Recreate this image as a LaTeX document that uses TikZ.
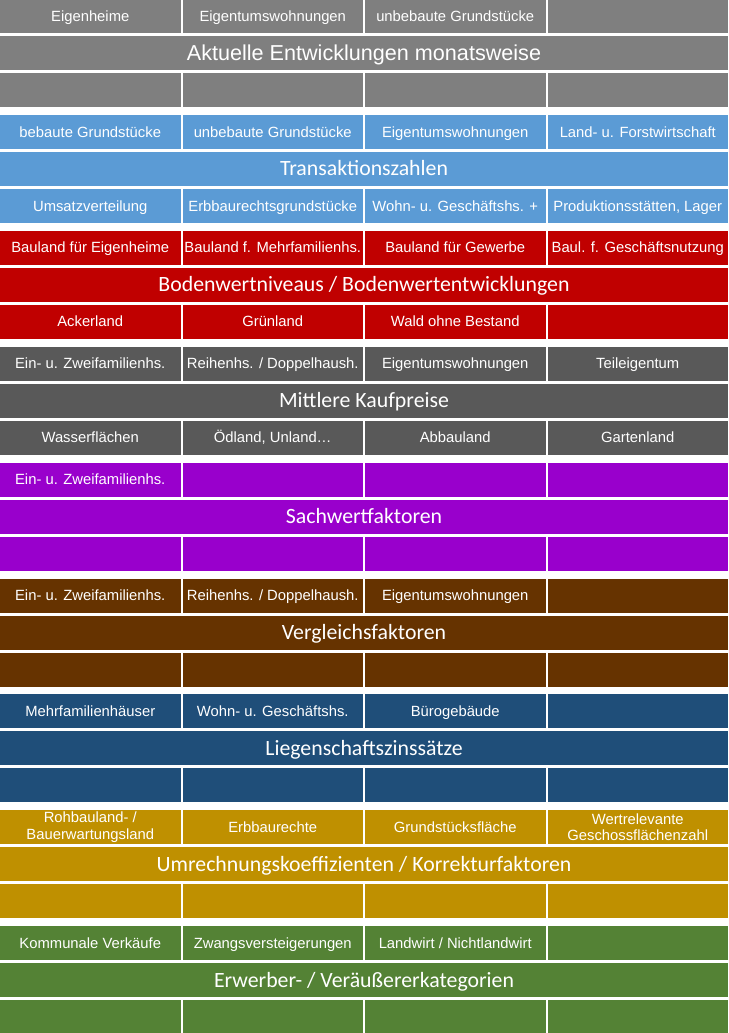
\documentclass[tikz,border=0pt]{standalone}
\usepackage{fontspec}
\setmainfont{Liberation Sans}
\newfontfamily\titlefont{Carlito}
\definecolor{grayA}{HTML}{7F7F7F}
\definecolor{blueA}{HTML}{5B9BD5}
\definecolor{redA}{HTML}{C00000}
\definecolor{grayB}{HTML}{595959}
\definecolor{purpleA}{HTML}{9900CC}
\definecolor{brownA}{HTML}{663300}
\definecolor{navyA}{HTML}{1F4E79}
\definecolor{goldA}{HTML}{BF9000}
\definecolor{greenA}{HTML}{548235}

\begin{document}
\begin{tikzpicture}[x=1pt,y=-1pt,
  cellbox/.style={fill=#1,text=white,minimum width=180.5pt,minimum height=34pt,inner sep=0pt,align=center,font=\fontsize{14.8}{16.5}\selectfont},
  cell/.style={cellbox=#1,text height=12.3pt,text depth=2pt},
  head/.style={fill=#1,text=white,minimum width=728pt,minimum height=34pt,inner sep=0pt,text height=16.5pt,text depth=2.5pt,font=\titlefont\fontsize{21.8}{24}\selectfont}]
  \fill[white] (0,0) rectangle (728,1033);
  \useasboundingbox (0,0) rectangle (728,1033);
  % Aktuelle Entwicklungen
  \node[cell=grayA] (r1t1) at (90.25,16) {Eigenheime};
  \node[cell=grayA] (r1t2) at (272.75,16) {Eigentumswohnungen};
  \node[cell=grayA] (r1t3) at (455.25,16) {unbebaute Grundstücke};
  \node[cell=grayA] (r1t4) at (637.75,16) {};
  \node[head=grayA,font=\fontsize{21.6}{24}\selectfont] (r1h) at (364,53) {Aktuelle Entwicklungen monatsweise};
  \node[cell=grayA] (r1b1) at (90.25,90) {};
  \node[cell=grayA] (r1b2) at (272.75,90) {};
  \node[cell=grayA] (r1b3) at (455.25,90) {};
  \node[cell=grayA] (r1b4) at (637.75,90) {};
  % Transaktionszahlen
  \node[cell=blueA] (r2t1) at (90.25,131.9) {bebaute Grundstücke};
  \node[cell=blueA] (r2t2) at (272.75,131.9) {unbebaute Grundstücke};
  \node[cell=blueA] (r2t3) at (455.25,131.9) {Eigentumswohnungen};
  \node[cell=blueA] (r2t4) at (637.75,131.9) {Land- u. Forstwirtschaft};
  \node[head=blueA] (r2h) at (364,168.9) {Transaktionszahlen};
  \node[cell=blueA] (r2b1) at (90.25,205.9) {Umsatzverteilung};
  \node[cell=blueA] (r2b2) at (272.75,205.9) {Erbbaurechtsgrundstücke};
  \node[cell=blueA] (r2b3) at (455.25,205.9) {Wohn- u. Geschäftshs. +};
  \node[cell=blueA] (r2b4) at (637.75,205.9) {Produktionsstätten, Lager};
  % Bodenwerte
  \node[cell=redA] (r3t1) at (90.25,247.8) {Bauland für Eigenheime};
  \node[cell=redA] (r3t2) at (272.75,247.8) {Bauland f. Mehrfamilienhs.};
  \node[cell=redA] (r3t3) at (455.25,247.8) {Bauland für Gewerbe};
  \node[cell=redA] (r3t4) at (637.75,247.8) {Baul. f. Geschäftsnutzung};
  \node[head=redA] (r3h) at (364,284.8) {Bodenwertniveaus / Bodenwertentwicklungen};
  \node[cell=redA] (r3b1) at (90.25,321.8) {Ackerland};
  \node[cell=redA] (r3b2) at (272.75,321.8) {Grünland};
  \node[cell=redA] (r3b3) at (455.25,321.8) {Wald ohne Bestand};
  \node[cell=redA] (r3b4) at (637.75,321.8) {};
  % Kaufpreise
  \node[cell=grayB] (r4t1) at (90.25,363.7) {Ein- u. Zweifamilienhs.};
  \node[cell=grayB] (r4t2) at (272.75,363.7) {Reihenhs. / Doppelhaush.};
  \node[cell=grayB] (r4t3) at (455.25,363.7) {Eigentumswohnungen};
  \node[cell=grayB] (r4t4) at (637.75,363.7) {Teileigentum};
  \node[head=grayB] (r4h) at (364,400.7) {Mittlere Kaufpreise};
  \node[cell=grayB] (r4b1) at (90.25,437.7) {Wasserflächen};
  \node[cell=grayB] (r4b2) at (272.75,437.7) {Ödland, Unland…};
  \node[cell=grayB] (r4b3) at (455.25,437.7) {Abbauland};
  \node[cell=grayB] (r4b4) at (637.75,437.7) {Gartenland};
  % Sachwertfaktoren
  \node[cell=purpleA] (r5t1) at (90.25,479.6) {Ein- u. Zweifamilienhs.};
  \node[cell=purpleA] (r5t2) at (272.75,479.6) {};
  \node[cell=purpleA] (r5t3) at (455.25,479.6) {};
  \node[cell=purpleA] (r5t4) at (637.75,479.6) {};
  \node[head=purpleA] (r5h) at (364,516.6) {Sachwertfaktoren};
  \node[cell=purpleA] (r5b1) at (90.25,553.6) {};
  \node[cell=purpleA] (r5b2) at (272.75,553.6) {};
  \node[cell=purpleA] (r5b3) at (455.25,553.6) {};
  \node[cell=purpleA] (r5b4) at (637.75,553.6) {};
  % Vergleichsfaktoren
  \node[cell=brownA] (r6t1) at (90.25,595.5) {Ein- u. Zweifamilienhs.};
  \node[cell=brownA] (r6t2) at (272.75,595.5) {Reihenhs. / Doppelhaush.};
  \node[cell=brownA] (r6t3) at (455.25,595.5) {Eigentumswohnungen};
  \node[cell=brownA] (r6t4) at (637.75,595.5) {};
  \node[head=brownA] (r6h) at (364,632.5) {Vergleichsfaktoren};
  \node[cell=brownA] (r6b1) at (90.25,669.5) {};
  \node[cell=brownA] (r6b2) at (272.75,669.5) {};
  \node[cell=brownA] (r6b3) at (455.25,669.5) {};
  \node[cell=brownA] (r6b4) at (637.75,669.5) {};
  % Liegenschaftszinssaetze
  \node[cell=navyA] (r7t1) at (90.25,711.4) {Mehrfamilienhäuser};
  \node[cell=navyA] (r7t2) at (272.75,711.4) {Wohn- u. Geschäftshs.};
  \node[cell=navyA] (r7t3) at (455.25,711.4) {Bürogebäude};
  \node[cell=navyA] (r7t4) at (637.75,711.4) {};
  \node[head=navyA] (r7h) at (364,748.4) {Liegenschaftszinssätze};
  \node[cell=navyA] (r7b1) at (90.25,785.4) {};
  \node[cell=navyA] (r7b2) at (272.75,785.4) {};
  \node[cell=navyA] (r7b3) at (455.25,785.4) {};
  \node[cell=navyA] (r7b4) at (637.75,785.4) {};
  % Umrechnungskoeffizienten
  \node[cellbox=goldA] (r8t1) at (90.25,827.3) {Rohbauland- /\\Bauerwartungsland};
  \node[cell=goldA] (r8t2) at (272.75,827.3) {Erbbaurechte};
  \node[cell=goldA] (r8t3) at (455.25,827.3) {Grundstücksfläche};
  \node[cellbox=goldA] (r8t4) at (637.75,827.3) {Wertrelevante\\Geschossflächenzahl};
  \node[head=goldA] (r8h) at (364,864.3) {Umrechnungskoeffizienten / Korrekturfaktoren};
  \node[cell=goldA] (r8b1) at (90.25,901.3) {};
  \node[cell=goldA] (r8b2) at (272.75,901.3) {};
  \node[cell=goldA] (r8b3) at (455.25,901.3) {};
  \node[cell=goldA] (r8b4) at (637.75,901.3) {};
  % Erwerber
  \node[cell=greenA] (r9t1) at (90.25,943.2) {Kommunale Verkäufe};
  \node[cell=greenA] (r9t2) at (272.75,943.2) {Zwangsversteigerungen};
  \node[cell=greenA] (r9t3) at (455.25,943.2) {Landwirt / Nichtlandwirt};
  \node[cell=greenA] (r9t4) at (637.75,943.2) {};
  \node[head=greenA] (r9h) at (364,980.2) {Erwerber- / Veräußererkategorien};
  \node[cell=greenA] (r9b1) at (90.25,1017.2) {};
  \node[cell=greenA] (r9b2) at (272.75,1017.2) {};
  \node[cell=greenA] (r9b3) at (455.25,1017.2) {};
  \node[cell=greenA] (r9b4) at (637.75,1017.2) {};
\end{tikzpicture}
\end{document}
